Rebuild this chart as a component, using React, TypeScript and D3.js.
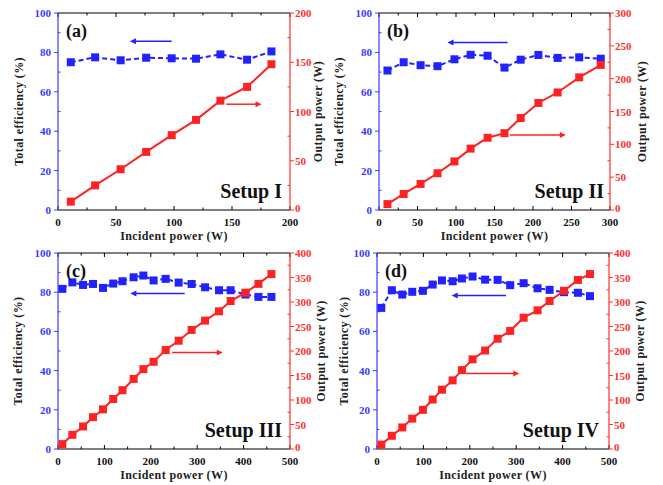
import React from "react";
import * as d3 from "d3";

// ---------- data ----------
const xA = [11, 32, 54, 76, 98, 119, 140, 163, 184];
const effA = [75, 77.5, 76, 77.3, 77, 76.8, 79, 76.3, 80.5];
const outA = [8.5, 25, 41.4, 59, 76, 91.5, 111, 125, 148];

const xB = [11, 32, 54, 76, 98, 119, 141, 163, 184, 207, 232, 260, 288];
const effB = [70.8, 75, 73.5, 73, 76.5, 78.8, 78.3, 72.3, 76.3, 78.7, 77.2, 77.5, 76.8];
const outB = [9, 24.4, 39.7, 56, 74, 93.5, 110, 117, 140, 163, 179, 202, 221];

const xC = [9.4, 31, 54, 75.5, 97, 119, 139, 163, 184, 206, 232, 260, 288, 317, 347, 372, 404, 432, 460];
const effC = [81.7, 85, 83.7, 84.2, 82.2, 84.4, 85.6, 87.6, 88.5, 86, 86.8, 84.9, 84.2, 82.5, 81, 81, 78.8, 77.6, 77.6];
const outC = [10, 29, 46, 65, 81, 102, 120, 143, 163, 178, 202, 221, 243, 262, 281, 302, 319, 337, 357];

const xD = [9.3, 32, 54.5, 76, 99, 120, 140, 163, 183, 206, 233, 260, 287, 316, 346, 372, 403, 433, 459];
const effD = [72, 81, 78.8, 80.2, 80.7, 83.9, 86, 85.6, 87, 88, 86.4, 86.3, 83.6, 84.6, 82, 81.2, 80, 79.7, 78];
const outD = [9, 27, 44, 62, 80, 101, 121, 140, 161, 183, 201, 225, 241, 268, 283, 302, 323, 345, 357];

const panelLabels = ["(a)", "(b)", "(c)", "(d)"];
const setupLabels = ["Setup I", "Setup II", "Setup III", "Setup IV"];
const xMax = [200, 300, 500, 500];
const xStep = [50, 50, 100, 100];
const yRightMax = [200, 300, 400, 400];
const yRightStep = [50, 50, 50, 50];
const effTicks = [0, 20, 40, 60, 80, 100];

// arrows in data coordinates: [xFrom, xTo] at an efficiency level
const blueArrows = [[98, 62], [167, 89], [273, 156], [278, 161]];
const blueArrowY = [85.6, 85, 79.3, 78.3];
const redArrows = [[145, 175.5], [170, 242.6], [246, 355], [192, 306.6]];
const redArrowY = [53.7, 38.1, 49.2, 38.5];

const xTitle = "Incident power (W)";
const yLeftTitle = "Total efficiency (%)";
const yRightTitle = "Output power (W)";

// ---------- layout ----------
const boxes = [
  { l: 58, r: 290, t: 13, b: 210, lt: 23, rt: 322, sr: 282 },
  { l: 379, r: 610, t: 13, b: 210, lt: 343, rt: 646, sr: 604 },
  { l: 58, r: 290, t: 253, b: 449, lt: 22, rt: 325, sr: 282 },
  { l: 377, r: 609, t: 253, b: 449, lt: 348, rt: 644, sr: 599 },
];

const BLUE = "#2222ff";
const BLUE_AX = "#3a3aff";
const RED = "#ff2222";
const RED_AX = "#ff3030";
const FONT = "'Liberation Serif', 'Times New Roman', serif";

const allX = [xA, xB, xC, xD];
const allEff = [effA, effB, effC, effD];
const allOut = [outA, outB, outC, outD];

function Panel({ i }: { i: number }) {
  const bx = boxes[i];
  const xs = allX[i];
  const eff = allEff[i];
  const out = allOut[i];
  const x = d3.scaleLinear().domain([0, xMax[i]]).range([bx.l, bx.r]);
  const yL = d3.scaleLinear().domain([0, 100]).range([bx.b, bx.t]);
  const yR = d3.scaleLinear().domain([0, yRightMax[i]]).range([bx.b, bx.t]);

  const xMajor = d3.range(0, xMax[i] + 0.001, xStep[i]);
  const xMinor = d3.range(xStep[i] / 2, xMax[i], xStep[i]);
  const yLMinor = d3.range(10, 100, 20);
  const rMajor = d3.range(0, yRightMax[i] + 0.001, yRightStep[i]);
  const rMinor = d3.range(yRightStep[i] / 2, yRightMax[i], yRightStep[i]);

  const effPts = xs.map((v, k) => [x(v), yL(eff[k])] as [number, number]);
  const outPts = xs.map((v, k) => [x(v), yR(out[k])] as [number, number]);
  const line = d3.line();
  const sq = 8;

  const ba = blueArrows[i];
  const ra = redArrows[i];
  const bay = yL(blueArrowY[i]);
  const ray = yL(redArrowY[i]);
  const midY = (bx.t + bx.b) / 2;
  const midX = (bx.l + bx.r) / 2;

  return (
    <g fontFamily={FONT} fontWeight="bold">
      {/* top & bottom spines */}
      <line x1={bx.l} x2={bx.r} y1={bx.b} y2={bx.b} stroke="#000" strokeWidth={1.2} />
      <line x1={bx.l} x2={bx.r} y1={bx.t} y2={bx.t} stroke="#000" strokeWidth={1.2} />
      {xMajor.map((v) => (
        <g key={"xm" + v}>
          <line x1={x(v)} x2={x(v)} y1={bx.b} y2={bx.b - 4} stroke="#000" />
          <line x1={x(v)} x2={x(v)} y1={bx.t} y2={bx.t + 4} stroke="#000" />
          <text x={x(v)} y={bx.b + 15.5} fontSize={11} textAnchor="middle" fill="#111">{v}</text>
        </g>
      ))}
      {xMinor.map((v) => (
        <g key={"xn" + v}>
          <line x1={x(v)} x2={x(v)} y1={bx.b} y2={bx.b - 2.5} stroke="#000" />
          <line x1={x(v)} x2={x(v)} y1={bx.t} y2={bx.t + 2.5} stroke="#000" />
        </g>
      ))}
      <text x={midX} y={bx.b + 29.5} fontSize={12} textAnchor="middle" fill="#222" letterSpacing={0.4}>{xTitle}</text>

      {/* left axis */}
      <line x1={bx.l} x2={bx.l} y1={bx.t} y2={bx.b} stroke={BLUE_AX} strokeWidth={1.2} />
      {effTicks.map((v) => (
        <g key={"l" + v}>
          <line x1={bx.l} x2={bx.l - 4} y1={yL(v)} y2={yL(v)} stroke={BLUE_AX} />
          <text x={bx.l - 7} y={yL(v) + 4} fontSize={11} textAnchor="end" fill={BLUE_AX}>{v}</text>
        </g>
      ))}
      {yLMinor.map((v) => (
        <line key={"ln" + v} x1={bx.l} x2={bx.l + 2.5} y1={yL(v)} y2={yL(v)} stroke={BLUE_AX} />
      ))}
      <text transform={`translate(${bx.lt},${midY}) rotate(-90)`} fontSize={12} textAnchor="middle" fill="#222" letterSpacing={0.4}>{yLeftTitle}</text>

      {/* right axis */}
      <line x1={bx.r} x2={bx.r} y1={bx.t} y2={bx.b} stroke={RED_AX} strokeWidth={1.2} />
      {rMajor.map((v) => (
        <g key={"r" + v}>
          <line x1={bx.r} x2={bx.r + 4} y1={yR(v)} y2={yR(v)} stroke={RED_AX} />
          <text x={bx.r + 5} y={yR(v) + (v === 0 ? 2 : 4)} fontSize={11} textAnchor="start" fill={RED_AX}>{v}</text>
        </g>
      ))}
      {rMinor.map((v) => (
        <line key={"rn" + v} x1={bx.r} x2={bx.r - 2.5} y1={yR(v)} y2={yR(v)} stroke={RED_AX} />
      ))}
      <text transform={`translate(${bx.rt},${midY}) rotate(-90)`} fontSize={12} textAnchor="middle" fill="#222" letterSpacing={0.4}>{yRightTitle}</text>

      {/* efficiency series */}
      <path d={line(effPts) || ""} fill="none" stroke={BLUE} strokeWidth={2} strokeDasharray="5,3" />
      {effPts.map((p, k) => (
        <rect key={"e" + k} x={p[0] - sq / 2} y={p[1] - sq / 2} width={sq} height={sq} fill={BLUE} />
      ))}

      {/* output power series */}
      <path d={line(outPts) || ""} fill="none" stroke={RED} strokeWidth={2} />
      {outPts.map((p, k) => (
        <rect key={"o" + k} x={p[0] - sq / 2} y={p[1] - sq / 2} width={sq} height={sq} fill={RED} />
      ))}

      {/* arrows */}
      <line x1={x(ba[0])} x2={x(ba[1]) + 5} y1={bay} y2={bay} stroke={BLUE} strokeWidth={1.5} />
      <path d={`M${x(ba[1])},${bay} l6,-3 l0,6 z`} fill={BLUE} />
      <line x1={x(ra[0])} x2={x(ra[1]) - 5} y1={ray} y2={ray} stroke={RED} strokeWidth={1.5} />
      <path d={`M${x(ra[1])},${ray} l-6,-3 l0,6 z`} fill={RED} />

      {/* labels */}
      <text x={bx.l + 8} y={bx.t + 24} fontSize={18} fill="#111">{panelLabels[i]}</text>
      <text x={bx.sr} y={bx.b - 12} fontSize={20} textAnchor="end" fill="#111">{setupLabels[i]}</text>
    </g>
  );
}

export default function App() {
  return (
    <svg width={663} height={485} style={{ position: "absolute", left: 0, top: 0, background: "#fff" }}>
      <rect width={663} height={485} fill="#fff" />
      {[0, 1, 2, 3].map((i) => (
        <Panel key={i} i={i} />
      ))}
    </svg>
  );
}
